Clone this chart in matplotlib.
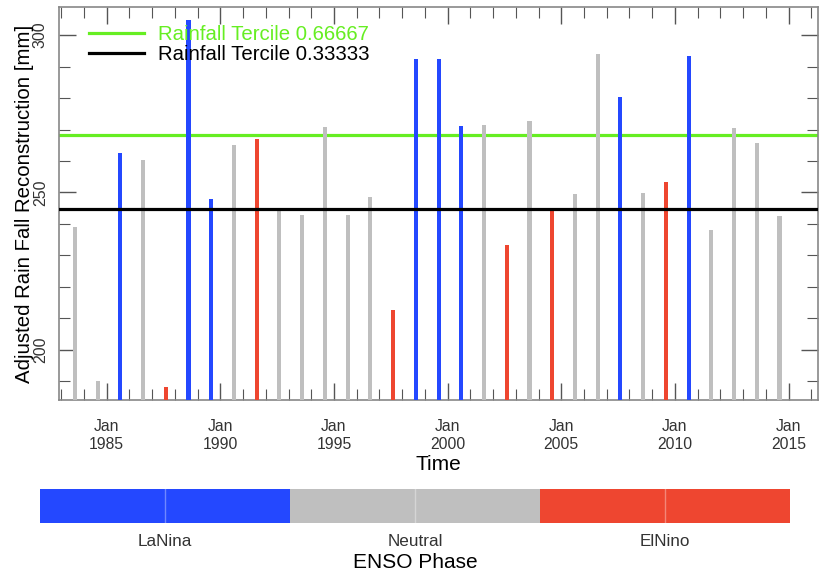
import numpy as np
import matplotlib
matplotlib.use("Agg")
import matplotlib.pyplot as plt
from matplotlib.colors import ListedColormap, BoundaryNorm

plt.rcParams['font.family'] = ['Liberation Sans', 'DejaVu Sans']

# rainfall reconstruction per season (bars drawn at year + 0.6)
years = list(range(1983, 2015))
rainfall = [239.0, 190.0, 262.5, 260.3, 188.3, 304.8, 248.0, 265.0, 267.0, 244.4,
            243.0, 270.8, 243.0, 248.6, 212.7, 292.4, 292.4, 271.1, 271.4, 233.3,
            272.7, 244.6, 249.5, 294.0, 280.3, 249.8, 253.3, 293.3, 238.1, 270.5,
            265.7, 242.5]
# 0 = LaNina, 1 = Neutral, 2 = ElNino
phase = [1, 1, 0, 1, 2, 0, 0, 1, 2, 1,
         1, 1, 1, 1, 2, 0, 0, 0, 1, 2,
         1, 2, 1, 1, 0, 1, 2, 0, 1, 1,
         1, 1]
phase_names = ['LaNina', 'Neutral', 'ElNino']
phase_colors = ['#2448ff', '#bfbfbf', '#ee4630']

tercile_hi = 268.3
tercile_lo = 244.7
tick_years = [1985, 1990, 1995, 2000, 2005, 2010, 2015]

fig = plt.figure(figsize=(8.27, 5.77), dpi=100)
ax = fig.add_axes([0.0713, 0.3068, 0.918, 0.681])

x = np.array(years) + 0.6
cols = [phase_colors[p] for p in phase]
ax.bar(x, rainfall, width=0.18, color=cols, zorder=3)

ax.axhline(tercile_hi, color='#66ee22', lw=2.3, zorder=2, label='Rainfall Tercile 0.66667')
ax.axhline(tercile_lo, color='black', lw=2.3, zorder=4, label='Rainfall Tercile 0.33333')

ax.set_xlim(1982.9, 2016.3)
ax.set_ylim(184.1, 308.9)

ax.set_xticks(tick_years)
ax.set_xticklabels([f'Jan\n{y}' for y in tick_years], fontsize=11.3, color='#333333')
ax.set_xticks(np.arange(1983, 2017), minor=True)
ax.set_yticks([200, 250, 300])
ax.set_yticklabels(['200', '250', '300'], rotation=90, va='center', fontsize=11.5, color='#333333')
ax.set_yticks(np.arange(190, 310, 10), minor=True)
ax.tick_params(which='both', direction='in', top=True, right=True, color='#555555')
ax.tick_params(which='major', length=12, width=1.0)
ax.tick_params(which='minor', length=8, width=0.8)
ax.tick_params(axis='x', which='major', pad=14)
ax.tick_params(axis='y', which='major', pad=8)
for s in ax.spines.values():
    s.set_color('#888888')
    s.set_linewidth(1.2)

ax.set_xlabel('Time', fontsize=15, labelpad=2)
ax.set_ylabel('Adjusted Rain Fall Reconstruction [mm]', fontsize=14.7, labelpad=-1)

leg = ax.legend(loc='upper left', bbox_to_anchor=(0.016, 1.0), frameon=False,
                fontsize=14.7, handlelength=2.65, handletextpad=0.73, labelspacing=0.03,
                labelcolor=['#66ee22', 'black'])

# ENSO phase colorbar
cax = fig.add_axes([0.0484, 0.0936, 0.907, 0.0589])
cmap = ListedColormap(phase_colors)
norm = BoundaryNorm([0, 1, 2, 3], cmap.N)
sm = matplotlib.cm.ScalarMappable(norm=norm, cmap=cmap)
cb = fig.colorbar(sm, cax=cax, orientation='horizontal', ticks=[0.5, 1.5, 2.5])
cb.set_ticklabels(phase_names, fontsize=12.3, color='#333333')
cb.ax.minorticks_off()
cb.ax.tick_params(which='both', length=0, pad=8)
for c in [0.5, 1.5, 2.5]:
    cax.axvline(c, color='white', lw=1, alpha=0.35)
cb.outline.set_visible(False)
cb.set_label('ENSO Phase', fontsize=15, labelpad=3)

fig.savefig('out.png', dpi=100)
